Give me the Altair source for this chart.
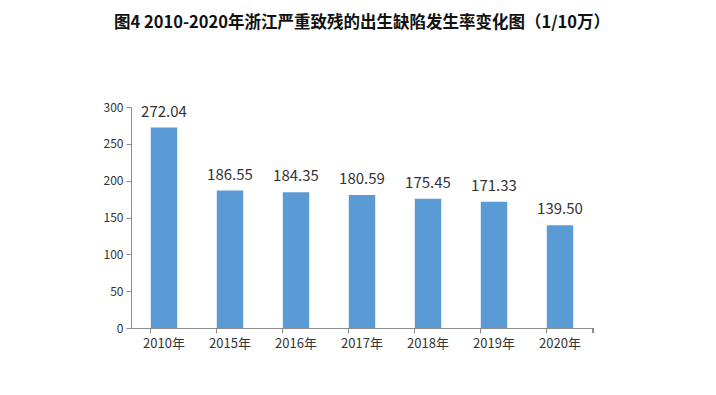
import altair as alt
import pandas as pd

years = ["2010年", "2015年", "2016年", "2017年", "2018年", "2019年", "2020年"]
rates = [272.04, 186.55, 184.35, 180.59, 175.45, 171.33, 139.50]
labels = ["272.04", "186.55", "184.35", "180.59", "175.45", "171.33", "139.50"]
y_ticks = [0, 50, 100, 150, 200, 250, 300]

df = pd.DataFrame({"year": years, "rate": rates, "label": labels})

W, H = 462, 221
FONT = "Noto Sans CJK SC"

x = alt.X("year:N", sort=years, title=None,
          scale=alt.Scale(paddingInner=0.6, paddingOuter=0.3),
          axis=alt.Axis(labelAngle=0, bandPosition=0, tickSize=5, domainColor="#8c8c8c",
                        tickColor="#8c8c8c", labelFontSize=13, labelColor="#333333",
                        labelFont=FONT, labelPadding=4))
y = alt.Y("rate:Q", title=None,
          scale=alt.Scale(domain=[0, 300], nice=False),
          axis=alt.Axis(values=y_ticks, grid=False, tickSize=5, domainColor="#8c8c8c",
                        tickColor="#8c8c8c", labelFontSize=12, labelColor="#333333",
                        labelFont=FONT, labelPadding=3, labelOverlap=False))

bars = alt.Chart(df).mark_bar(color="#5B9BD5").encode(x=x, y=y)
text = alt.Chart(df).mark_text(baseline="bottom", dy=-8, fontSize=15, font=FONT,
                               color="#333333").encode(x=x, y=y, text="label:N")
end_tick = alt.Chart(df).mark_rule(color="#8c8c8c").encode(
    x=alt.value(W), y=alt.value(H), y2=alt.value(H + 5))

chart = alt.layer(bars, text, end_tick).properties(
    width=W, height=H,
    background="white",
    title=alt.TitleParams("图4 2010-2020年浙江严重致残的出生缺陷发生率变化图（1/10万）",
                          fontSize=16.5, font=FONT, fontWeight="bold", color="#111111",
                          anchor="middle", offset=70),
    autosize=alt.AutoSizeParams(type="none"),
    padding={"left": 123, "top": 99, "right": 115, "bottom": 59},
).configure_view(strokeWidth=0, stroke="transparent")

chart.save("out.html", embed_options={"renderer": "svg", "actions": False})
